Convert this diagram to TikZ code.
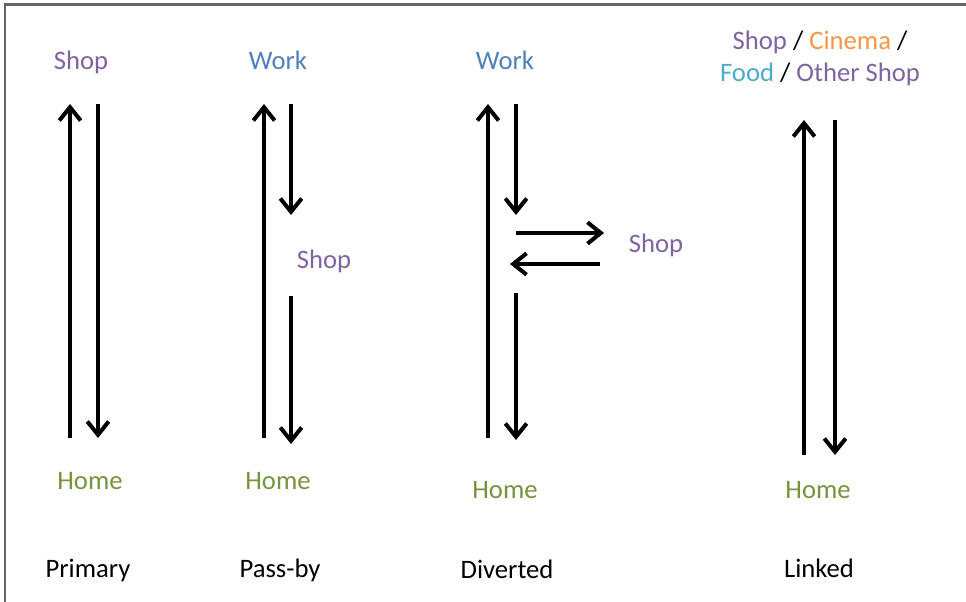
\documentclass[tikz,border=0pt]{standalone}
\usepackage{fontspec}
\setmainfont{Carlito}
\usetikzlibrary{arrows.meta}

\definecolor{shopc}{RGB}{128,100,162}
\definecolor{workc}{RGB}{79,129,189}
\definecolor{homec}{RGB}{119,147,60}
\definecolor{cinemac}{RGB}{247,150,70}
\definecolor{foodc}{RGB}{75,172,198}
\definecolor{framec}{RGB}{100,100,100}

\tikzset{
  lbl/.style={font=\fontsize{20}{24}\selectfont, inner sep=0pt},
  trip/.style={line width=3pt, -{Straight Barb[length=10pt,width=16pt]}},
}

\begin{document}
\begin{tikzpicture}[x=0.75pt, y=-0.75pt]
  \useasboundingbox (0,0) rectangle (966,602);
  \fill[white] (0,0) rectangle (966,602);
  % outer frame (top and left edges)
  \draw[framec, line width=1.6pt] (5,602) -- (5,4.5) -- (966,4.5);

  % ---------- Primary ----------
  \node[lbl, text=shopc] (p-shop) at (81,62) {Shop};
  \node[lbl, text=homec] (p-home) at (90,481) {Home};
  \node[lbl] (p-name) at (88,570) {Primary};
  \coordinate (p-up-a) at (70,438);  \coordinate (p-up-b) at (70,104);
  \coordinate (p-dn-a) at (98,104);  \coordinate (p-dn-b) at (98,438);
  \draw[trip] (p-up-a) -- (p-up-b);
  \draw[trip] (p-dn-a) -- (p-dn-b);

  % ---------- Pass-by ----------
  \node[lbl, text=workc] (b-work) at (278,60) {Work};
  \node[lbl, text=shopc] (b-shop) at (324,261) {Shop};
  \node[lbl, text=homec] (b-home) at (278,481) {Home};
  \node[lbl] (b-name) at (280,570) {Pass-by};
  \coordinate (b-up-a) at (264,438);  \coordinate (b-up-b) at (264,104);
  \coordinate (b-d1-a) at (291,104);  \coordinate (b-d1-b) at (291,215);
  \coordinate (b-d2-a) at (291,296);  \coordinate (b-d2-b) at (291,444);
  \draw[trip] (b-up-a) -- (b-up-b);
  \draw[trip] (b-d1-a) -- (b-d1-b);
  \draw[trip] (b-d2-a) -- (b-d2-b);

  % ---------- Diverted ----------
  \node[lbl, text=workc] (d-work) at (505,60) {Work};
  \node[lbl, text=shopc] (d-shop) at (656,245) {Shop};
  \node[lbl, text=homec] (d-home) at (505,490) {Home};
  \node[lbl] (d-name) at (507,569) {Diverted};
  \coordinate (d-up-a) at (488,438);  \coordinate (d-up-b) at (488,104);
  \coordinate (d-d1-a) at (516,104);  \coordinate (d-d1-b) at (516,215);
  \coordinate (d-out-a) at (516,233); \coordinate (d-out-b) at (604,233);
  \coordinate (d-in-a) at (600,264);  \coordinate (d-in-b) at (510,264);
  \coordinate (d-d2-a) at (516,293);  \coordinate (d-d2-b) at (516,440);
  \draw[trip] (d-up-a) -- (d-up-b);
  \draw[trip] (d-d1-a) -- (d-d1-b);
  \draw[trip] (d-out-a) -- (d-out-b);
  \draw[trip] (d-in-a) -- (d-in-b);
  \draw[trip] (d-d2-a) -- (d-d2-b);

  % ---------- Linked ----------
  \node[lbl, align=center] (l-dest) at (820,58)
    {\textcolor{shopc}{Shop} / \textcolor{cinemac}{Cinema} /\\[0pt]
     \textcolor{foodc}{Food} / \textcolor{shopc}{Other Shop}};
  \node[lbl, text=homec] (l-home) at (818,490) {Home};
  \node[lbl] (l-name) at (819,568) {Linked};
  \coordinate (l-up-a) at (804,455);  \coordinate (l-up-b) at (804,120);
  \coordinate (l-dn-a) at (835,120);  \coordinate (l-dn-b) at (835,455);
  \draw[trip] (l-up-a) -- (l-up-b);
  \draw[trip] (l-dn-a) -- (l-dn-b);
\end{tikzpicture}
\end{document}
